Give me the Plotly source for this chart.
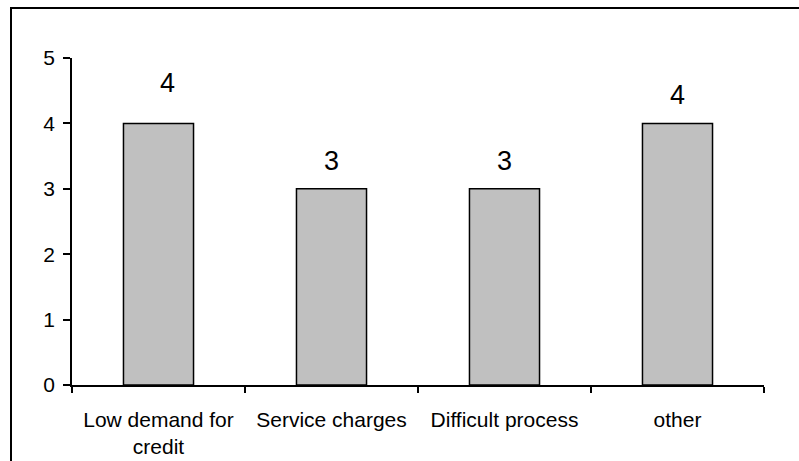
import plotly.graph_objects as go

# Reasons given, number of responses
categories = ["Low demand for<br>credit", "Service charges", "Difficult process", "other"]
responses = [4, 3, 3, 4]
y_ticks = [0, 1, 2, 3, 4, 5]

# per-label nudges (pixels) for the value labels above the bars
label_dx = [9, 0, 0, 0]
label_dy = [12, 0, 0, 0]

fig = go.Figure()
fig.add_trace(go.Bar(
    x=categories,
    y=responses,
    marker=dict(color="#C0C0C0", line=dict(color="#000000", width=1.5)),
    hoverinfo="skip",
))

for cat, val, dx, dy in zip(categories, responses, label_dx, label_dy):
    fig.add_annotation(
        x=cat, y=val, xref="x", yref="y",
        text=str(val), showarrow=False,
        yanchor="bottom", yshift=11 + dy, xshift=dx,
        font=dict(family="Liberation Sans Narrow, Arial Narrow, Liberation Sans, sans-serif",
                  size=27, color="#000000"),
    )

# outer chart frame (runs past the right and bottom edges of the page)
fig.add_shape(
    type="rect", xref="paper", yref="paper",
    x0=(11 - 72) / 692, x1=1.5, y0=-0.6, y1=(385 - 8) / 327,
    line=dict(color="#000000", width=2), fillcolor="rgba(0,0,0,0)", layer="below",
)

fig.update_layout(
    width=799, height=461,
    margin=dict(l=72, r=35, t=58, b=76),
    paper_bgcolor="#FFFFFF", plot_bgcolor="#FFFFFF",
    bargap=0.595,
    showlegend=False,
    font=dict(family="Liberation Sans, Arial, sans-serif", size=21, color="#000000"),
)
fig.update_xaxes(
    type="category", automargin=False,
    showline=True, linecolor="#000000", linewidth=1.5,
    ticks="outside", tickson="boundaries", ticklen=6, tickcolor="#000000", tickwidth=1.5,
    showgrid=False, zeroline=False,
    tickfont=dict(size=21), ticklabelstandoff=15,
)
fig.update_yaxes(
    range=[0, 5], tickvals=y_ticks, automargin=False,
    showline=True, linecolor="#000000", linewidth=1.5,
    ticks="outside", ticklen=7, tickcolor="#000000", tickwidth=1.5,
    showgrid=False, zeroline=False,
    tickfont=dict(size=21), ticklabelstandoff=4,
)

fig.write_html("out.html")
